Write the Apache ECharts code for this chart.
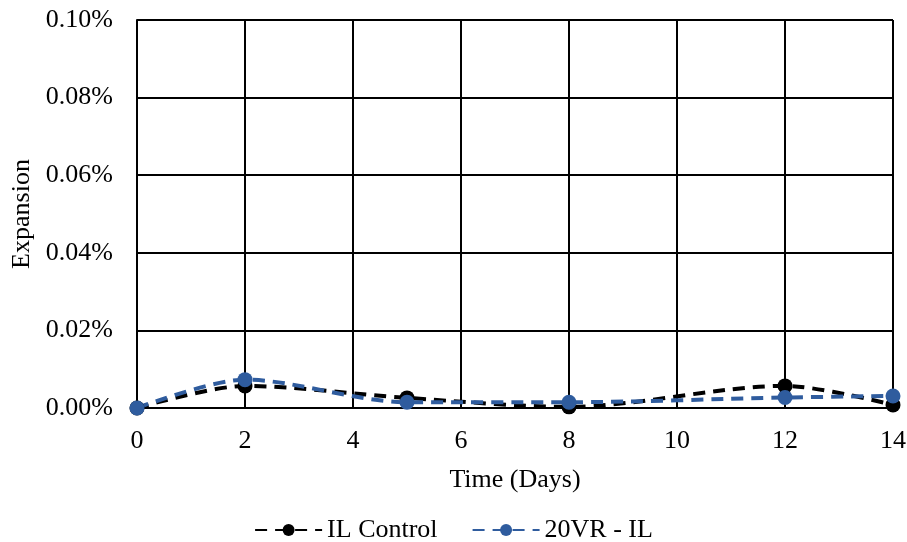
<!DOCTYPE html>
<html><head><meta charset="utf-8">
<script src="https://cdn.jsdelivr.net/npm/echarts@6/dist/echarts.min.js"></script>
<style>html,body{margin:0;padding:0;background:#fff}#c{width:907px;height:542px}</style>
</head><body><div id="c"></div>
<script>
const days = [0, 2, 5, 8, 12, 14];
const ilControl = [0, 0.0057, 0.0026, 0.0003, 0.0057, 0.0008];
const vr20IL = [0, 0.0073, 0.0015, 0.0015, 0.0027, 0.0031];
const seriesNames = ['IL Control', '20VR - IL'];
const colors = ['#000000', '#2F5C9E'];
const font = 'Liberation Serif';
const fs = 26;
const chart = echarts.init(document.getElementById('c'), null, {renderer: 'canvas'});
function mk(name, vals, color) {
  return {
    name: name, type: 'line', smooth: 0.3,
    data: days.map((d, i) => [d, vals[i]]),
    symbol: 'circle', symbolSize: 15,
    itemStyle: {color: color},
    lineStyle: {color: color, width: 4, type: [12, 8]},
    emphasis: {disabled: true}
  };
}
chart.setOption({
  animation: false,
  textStyle: {fontFamily: font},
  grid: {left: 137, right: 14, top: 20, bottom: 134, outerBoundsMode: 'none', containLabel: false},
  xAxis: {
    type: 'value', min: 0, max: 14, interval: 2,
    name: 'Time (Days)', nameLocation: 'middle', nameGap: 59,
    nameTextStyle: {fontFamily: font, fontSize: fs, color: '#000', verticalAlign: 'top'},
    axisLine: {lineStyle: {color: '#000', width: 2}},
    axisTick: {show: false},
    axisLabel: {fontFamily: font, fontSize: fs, color: '#000', margin: 20},
    splitLine: {show: true, lineStyle: {color: '#000', width: 2}}
  },
  yAxis: {
    type: 'value', min: 0, max: 0.1, interval: 0.02,
    name: 'Expansion', nameLocation: 'middle', nameGap: 96,
    nameTextStyle: {fontFamily: font, fontSize: fs, color: '#000'},
    axisLine: {show: true, lineStyle: {color: '#000', width: 2}},
    axisTick: {show: false},
    axisLabel: {fontFamily: font, fontSize: fs, color: '#000', margin: 24,
      formatter: v => v.toFixed(2) + '%'},
    splitLine: {show: true, lineStyle: {color: '#000', width: 2}}
  },
  legend: {
    top: 512, left: 'center', itemWidth: 67, itemHeight: 15, itemGap: 34,
    textStyle: {fontFamily: font, fontSize: fs, color: '#000'},
    data: seriesNames
  },
  series: [mk(seriesNames[0], ilControl, colors[0]), mk(seriesNames[1], vr20IL, colors[1])]
});
</script></body></html>
